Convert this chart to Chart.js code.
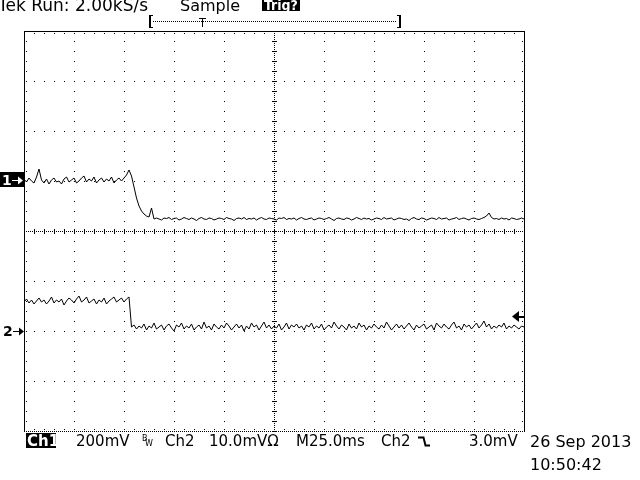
<!DOCTYPE html>
<html>
<head>
<meta charset="utf-8">
<script src="https://cdn.jsdelivr.net/npm/chart.js@4.4.0/dist/chart.umd.min.js"></script>
<style>
html, body { margin:0; padding:0; background:#fff; }
</style>
</head>
<body>
<canvas id="scope" width="640" height="480"></canvas>
<script>
// scope settings
const sampleMs = 1.25;
const timePerDiv = 25;      // M25.0ms
const ch1Scale = 200;       // mV/div
const ch2Scale = 10;        // mV/div
const ch1Pos = 1.0;         // ground marker, divisions from centre
const ch2Pos = -2.0;
const trigLevel = 3.0;      // mV on Ch2

// Ch1 trace, mV (one value per 1.25 ms)
const ch1mV = [
  8, -4, 12, 0, -8, 16, 48, 4, -8, 8,
  -12, 4, 12, -4, 0, -12, 8, 16, -4, 4,
  12, -8, 0, 12, 20, -4, 8, 0, 16, -8,
  4, 12, -4, 8, 0, 16, -8, 4, 12, 0,
  12, 24, 44, 20, -24, -68, -100, -120, -132, -140,
  -144, -108, -152, -148, -152, -156, -148, -150, -146, -154,
  -150, -148, -156, -152, -146, -150, -154, -148, -152, -158,
  -150, -146, -152, -154, -148, -150, -156, -152, -148, -150,
  -154, -146, -150, -152, -158, -150, -148, -152, -146, -154,
  -150, -152, -148, -156, -150, -146, -152, -154, -148, -150,
  -152, -156, -148, -150, -146, -154, -150, -152, -148, -156,
  -150, -146, -152, -154, -150, -148, -156, -152, -148, -150,
  -154, -150, -146, -152, -158, -150, -148, -152, -154, -148,
  -150, -156, -152, -146, -150, -154, -148, -152, -150, -156,
  -152, -148, -150, -154, -146, -152, -150, -148, -156, -152,
  -148, -150, -154, -152, -158, -150, -146, -152, -154, -148,
  -150, -156, -152, -148, -150, -154, -146, -152, -150, -148,
  -156, -152, -150, -146, -154, -150, -148, -152, -156, -150,
  -148, -152, -154, -150, -146, -140, -128, -146, -152, -150,
  -154, -148, -152, -150, -156, -148, -150, -154, -152, -148,
  -152
];

// Ch2 trace, mV
const ch2mV = [
  5.8, 6.4, 5.6, 6.2, 5.4, 6.0, 6.6, 5.8, 6.2, 5.4,
  6.0, 6.8, 5.6, 6.2, 5.8, 6.4, 5.2, 6.0, 6.6, 6.2,
  5.6, 6.4, 7.0, 5.8, 6.2, 6.8, 5.6, 6.0, 6.4, 5.4,
  6.2, 5.8, 6.6, 5.4, 6.0, 6.4, 6.8, 5.8, 6.2, 6.6,
  5.8, 6.4, 6.8, 0.8, 1.2, 0.4, 1.0, 0.6, 1.4, 0.2,
  1.0, 0.6, 1.6, 0.4, 0.8, 1.2, 0.2, 1.0, 1.4, 0.6,
  0.0, 1.2, 0.8, 1.6, 0.4, 1.0, 0.6, 1.4, 0.2, 0.8,
  1.2, 0.4, 1.8, 0.6, 1.0, 0.2, 1.4, 0.8, 0.4, 1.2,
  0.6, 1.6, 1.0, 0.2, 0.8, 1.4, 0.6, 1.2, 0.0, 1.0,
  0.4, 1.6, 0.8, 1.2, 0.2, 1.0, 1.8, 0.6, 1.2, 0.4,
  1.0, 0.6, 1.4, 0.2, 0.8, 1.6, 0.4, 1.2, 0.8, 1.4,
  0.6, 1.0, 0.2, 1.2, 0.8, 1.6, 0.4, 1.0, 0.6, 1.4,
  0.2, 0.8, 1.2, 0.6, 1.8, 1.0, 0.4, 1.2, 0.8, 0.2,
  1.4, 0.6, 1.0, 0.4, 1.6, 0.8, 1.2, 0.2, 1.0, 0.6,
  1.4, 0.8, 0.4, 1.2, 0.6, 1.8, 1.0, 0.2, 0.8, 1.4,
  0.6, 1.2, 0.4, 1.0, 1.6, 0.8, 0.2, 1.2, 0.6, 1.0,
  1.4, 0.4, 0.8, 1.2, 0.2, 1.6, 1.0, 0.6, 1.4, 0.8,
  0.4, 1.2, 1.8, 0.6, 1.0, 0.2, 1.4, 0.8, 1.2, 0.4,
  1.0, 1.6, 0.6, 1.2, 2.0, 0.8, 1.4, 0.4, 1.0, 0.6,
  1.2, 0.8, 1.6, 0.4, 1.0, 0.6, 1.2, 0.8, 0.4, 1.0,
  0.8
];

const timeMs = ch1mV.map((_, i) => i * sampleMs);

const topText = ['Tek Run: 2.00kS/s', 'Sample', 'Trig?'];
const bottomText = ['Ch1', '200mV', 'Ch2', '10.0mVΩ', 'M25.0ms', 'Ch2', '3.0mV'];
const dateText = ['26 Sep 2013', '10:50:42'];

const graticule = {
  id: 'graticule',
  beforeDatasetsDraw(chart) {
    const ctx = chart.ctx;
    const { left, right, top, bottom } = chart.chartArea;
    const xs = chart.scales.x, ys = chart.scales.y1;
    const dot = (px, py, w = 1, h = 1) => ctx.fillRect(Math.round(px), Math.round(py), w, h);
    ctx.save();
    ctx.fillStyle = '#000';

    // vertical division lines
    for (let d = 1; d < 10; d++) {
      const px = Math.round(xs.getPixelForValue(d * timePerDiv));
      if (d === 5) {
        for (let py = top; py <= bottom; py += 2) dot(px, py);
        for (let py = top; py <= bottom; py += 10) dot(px - 2, py, 5, 1);
      } else {
        for (let py = top; py <= bottom; py += 10) dot(px, py);
      }
    }
    // horizontal division lines
    for (let d = -3; d <= 3; d++) {
      const py = Math.round(ys.getPixelForValue((d - ch1Pos) * ch1Scale));
      if (d === 0) {
        for (let px = left; px <= right; px += 2) dot(px, py);
        for (let px = left; px <= right; px += 10) dot(px, py - 2, 1, 5);
      } else {
        for (let px = left; px <= right; px += 10) dot(px, py);
      }
    }
    // edge ticks
    for (let px = left + 10; px < right; px += 10) { dot(px, top + 2); dot(px, bottom - 2); }
    for (let py = top + 10; py < bottom; py += 10) { dot(left + 2, py); dot(right - 2, py); }

    // border
    ctx.fillRect(left, top, right - left + 1, 1);
    ctx.fillRect(left, top, 1, bottom - top + 1);
    ctx.fillRect(right, top, 1, bottom - top + 1);
    for (let px = left; px <= right; px += 2) dot(px, bottom);
    ctx.restore();
  }
};

const readout = {
  id: 'readout',
  afterDraw(chart) {
    const ctx = chart.ctx;
    const { right } = chart.chartArea;
    ctx.save();
    ctx.fillStyle = '#000';
    ctx.strokeStyle = '#000';
    ctx.lineWidth = 1;
    ctx.textBaseline = 'alphabetic';

    // top line
    ctx.font = '17px "DejaVu Sans"';
    ctx.fillText(topText[0], -2, 11);
    ctx.font = '16px "DejaVu Sans"';
    ctx.fillText(topText[1], 180, 11);
    ctx.fillRect(262, 0, 38, 11);
    ctx.fillStyle = '#fff';
    ctx.font = 'bold 14px "DejaVu Sans Condensed", "DejaVu Sans"';
    ctx.fillText(topText[2], 264, 10);
    ctx.fillStyle = '#000';

    // record bar
    ctx.fillRect(149, 15, 2, 13);
    ctx.fillRect(149, 15, 4, 1);
    ctx.fillRect(149, 27, 4, 1);
    ctx.fillRect(399, 15, 2, 13);
    ctx.fillRect(397, 15, 4, 1);
    ctx.fillRect(397, 27, 4, 1);
    for (let px = 153; px < 397; px += 2) ctx.fillRect(px, 21, 1, 1);
    ctx.fillRect(199, 18, 7, 1);
    ctx.fillRect(202, 18, 1, 9);

    // bottom readout
    const yb = 446;
    ctx.fillRect(26, 433, 30, 15);
    ctx.font = 'bold 15px "DejaVu Sans"';
    ctx.fillStyle = '#fff';
    ctx.fillText(bottomText[0], 27, yb);
    ctx.fillStyle = '#000';
    ctx.font = '15px "DejaVu Sans"';
    ctx.fillText(bottomText[1], 76, yb);
    ctx.fillText(bottomText[2], 165, yb);
    ctx.fillText(bottomText[3], 209, yb);
    ctx.fillText(bottomText[4], 296, yb);
    ctx.fillText(bottomText[5], 381, yb);
    ctx.fillText(bottomText[6], 469, yb);
    ctx.font = '8px "DejaVu Sans"';
    ctx.fillText('B', 142, 441);
    ctx.fillText('W', 145, 446);
    // falling edge symbol
    ctx.beginPath();
    ctx.moveTo(418, 437.5);
    ctx.lineTo(423.5, 437.5);
    ctx.lineTo(425.5, 445.5);
    ctx.lineTo(430, 445.5);
    ctx.lineWidth = 2;
    ctx.stroke();
    ctx.lineWidth = 1;

    ctx.font = '16px "DejaVu Sans"';
    ctx.fillText(dateText[0], 530, 447);
    ctx.fillText(dateText[1], 530, 470);

    // channel ground markers
    const y1 = Math.round(chart.scales.y1.getPixelForValue(0));
    const y2 = Math.round(chart.scales.y2.getPixelForValue(0));
    ctx.fillRect(0, y1 - 9, 24, 15);
    ctx.fillStyle = '#fff';
    ctx.font = 'bold 14px "DejaVu Sans"';
    ctx.fillText('1', 2, y1 + 4);
    ctx.fillRect(12, y1 - 1, 9, 1);
    ctx.beginPath();
    ctx.moveTo(23, y1 - 0.5); ctx.lineTo(18, y1 - 4.5); ctx.lineTo(18, y1 + 3.5); ctx.closePath(); ctx.fill();
    ctx.fillStyle = '#000';
    ctx.fillText('2', 3, y2 + 5);
    ctx.fillRect(13, y2, 8, 1);
    ctx.beginPath();
    ctx.moveTo(24, y2 + 0.5); ctx.lineTo(19, y2 - 3.5); ctx.lineTo(19, y2 + 4.5); ctx.closePath(); ctx.fill();

    // trigger level arrow
    const yt = Math.round(chart.scales.y2.getPixelForValue(trigLevel));
    ctx.beginPath();
    ctx.moveTo(512, yt + 0.5); ctx.lineTo(519, yt - 5); ctx.lineTo(519, yt + 6); ctx.closePath(); ctx.fill();
    ctx.fillRect(519, yt, right - 519, 2);
    ctx.restore();
  }
};

new Chart(document.getElementById('scope'), {
  type: 'line',
  data: {
    datasets: [
      {
        label: 'Ch1',
        data: ch1mV.map((v, i) => ({ x: timeMs[i], y: v })),
        yAxisID: 'y1',
        borderColor: '#000',
        borderWidth: 1,
        pointRadius: 0,
        tension: 0
      },
      {
        label: 'Ch2',
        data: ch2mV.map((v, i) => ({ x: timeMs[i], y: v })),
        yAxisID: 'y2',
        borderColor: '#000',
        borderWidth: 1,
        pointRadius: 0,
        tension: 0
      }
    ]
  },
  options: {
    responsive: false,
    animation: false,
    devicePixelRatio: 1,
    layout: { padding: { left: 24, top: 31, right: 116, bottom: 49 } },
    plugins: { legend: { display: false }, tooltip: { enabled: false } },
    scales: {
      x: { type: 'linear', min: 0, max: 10 * timePerDiv, display: false },
      y1: { min: (-4 - ch1Pos) * ch1Scale, max: (4 - ch1Pos) * ch1Scale, display: false },
      y2: { min: (-4 - ch2Pos) * ch2Scale, max: (4 - ch2Pos) * ch2Scale, display: false }
    }
  },
  plugins: [graticule, readout]
});
</script>
</body>
</html>
